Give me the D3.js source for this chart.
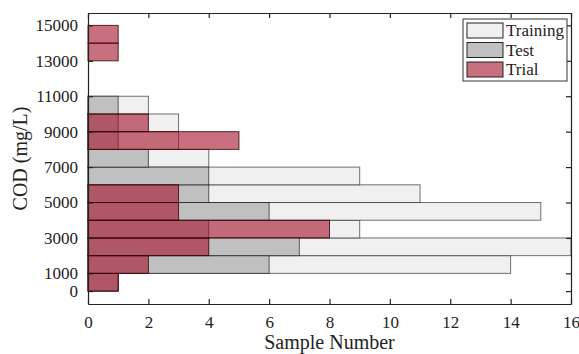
<!DOCTYPE html>
<html>
<head>
<meta charset="utf-8">
<script src="https://cdn.jsdelivr.net/npm/d3@7"></script>
<style>
  body { margin: 0; background: #fff; }
  text { font-family: "Liberation Serif", "Times New Roman", serif; fill: #222; }
</style>
</head>
<body>
<div class="chart"></div>
<script>
var svgWidth = 579;
var svgHeight = 354;

var margin = { top: 13, right: 8, bottom: 50, left: 88 };
var width = 571 - margin.left;
var height = 304 - margin.top;

// COD bins (lower edge, mg/L), bin width 1000
var binStarts = [0, 1000, 2000, 3000, 4000, 5000, 6000, 7000, 8000, 9000, 10000, 11000, 12000, 13000, 14000];
var binWidth = 1000;

// sample counts per bin
var training = [1, 14, 16, 9, 15, 11, 9, 4, 3, 3, 2, 0, 0, 0, 0];
var test     = [1, 6, 7, 4, 6, 4, 4, 2, 1, 1, 1, 0, 0, 0, 0];
var trial    = [1, 2, 4, 8, 3, 3, 0, 0, 5, 2, 0, 0, 0, 1, 1];

var seriesNames = ["Training", "Test", "Trial"];
var xTicks = [0, 2, 4, 6, 8, 10, 12, 14, 16];
var yTicks = [0, 1000, 3000, 5000, 7000, 9000, 11000, 13000, 15000];

var series = [
  { name: "Training", values: training, fill: "#f0f0f0", fillOpacity: 1, stroke: "#000", strokeOpacity: 0.55 },
  { name: "Test", values: test, fill: "#c0c0c0", fillOpacity: 1, stroke: "#000", strokeOpacity: 0.6 },
  { name: "Trial", values: trial, fill: "rgb(163,17,42)", fillOpacity: 0.6, stroke: "#300", strokeOpacity: 0.8 }
];

var serif = '"Liberation Serif", "Times New Roman", serif';

var svg = d3.select(".chart")
  .append("svg")
  .attr("width", svgWidth)
  .attr("height", svgHeight);

var chartGroup = svg.append("g")
  .attr("transform", `translate(${margin.left}, ${margin.top})`);

var xScale = d3.scaleLinear().domain([0, 16]).range([0, width]);
var yScale = d3.scaleLinear().domain([-730, 15700]).range([height, 0]);

// bars
series.forEach(function(s) {
  var rows = binStarts.map((b, i) => ({ lo: b, hi: b + binWidth, n: s.values[i] }))
    .filter(d => d.n > 0);
  chartGroup.append("g").selectAll("rect")
    .data(rows)
    .enter()
    .append("rect")
    .attr("x", xScale(0))
    .attr("y", d => yScale(d.hi))
    .attr("width", d => xScale(d.n) - xScale(0))
    .attr("height", d => yScale(d.lo) - yScale(d.hi))
    .attr("fill", s.fill)
    .attr("fill-opacity", s.fillOpacity)
    .attr("stroke", s.stroke)
    .attr("stroke-opacity", s.strokeOpacity)
    .attr("stroke-width", 1);
});

// axes, ticks pointing inward on all sides
var bottomAxis = d3.axisBottom(xScale).tickValues(xTicks).tickSizeInner(-5).tickSizeOuter(0).tickPadding(12);
var topAxis = d3.axisTop(xScale).tickValues(xTicks).tickSizeInner(-5).tickSizeOuter(0).tickFormat("");
var leftAxis = d3.axisLeft(yScale).tickValues(yTicks).tickSizeInner(-5).tickSizeOuter(0).tickPadding(10).tickFormat(d3.format("d"));
var rightAxis = d3.axisRight(yScale).tickValues(yTicks).tickSizeInner(-5).tickSizeOuter(0).tickFormat("");

var axes = [
  chartGroup.append("g").attr("transform", `translate(0, ${height})`).call(bottomAxis),
  chartGroup.append("g").call(topAxis),
  chartGroup.append("g").call(leftAxis),
  chartGroup.append("g").attr("transform", `translate(${width}, 0)`).call(rightAxis)
];
axes.forEach(function(a) {
  a.attr("font-family", serif).attr("font-size", 17);
  a.selectAll("path, line").attr("stroke", "#222").attr("stroke-width", 1.2);
  a.selectAll("text").style("font-family", serif).style("font-size", "17px").attr("fill", "#222");
});

// axis titles
chartGroup.append("text")
  .attr("x", width / 2)
  .attr("y", 349 - margin.top)
  .attr("text-anchor", "middle")
  .style("font-size", "20px")
  .text("Sample Number");

chartGroup.append("text")
  .attr("transform", "rotate(-90)")
  .attr("x", -height / 2)
  .attr("y", 27 - margin.left)
  .attr("text-anchor", "middle")
  .style("font-size", "20px")
  .text("COD (mg/L)");

// legend
var legend = svg.append("g").attr("transform", "translate(463, 19)");
legend.append("rect")
  .attr("width", 104).attr("height", 62)
  .attr("fill", "#fff").attr("stroke", "#333").attr("stroke-width", 1);

series.forEach(function(s, i) {
  var row = legend.append("g").attr("transform", `translate(4, ${4 + i * 19.5})`);
  row.append("rect")
    .attr("width", 36).attr("height", 15)
    .attr("fill", s.fill).attr("fill-opacity", s.fillOpacity)
    .attr("stroke", "#222").attr("stroke-width", 1);
  row.append("text")
    .attr("x", 39).attr("y", 13)
    .style("font-size", "17px")
    .text(seriesNames[i]);
});
</script>
</body>
</html>
